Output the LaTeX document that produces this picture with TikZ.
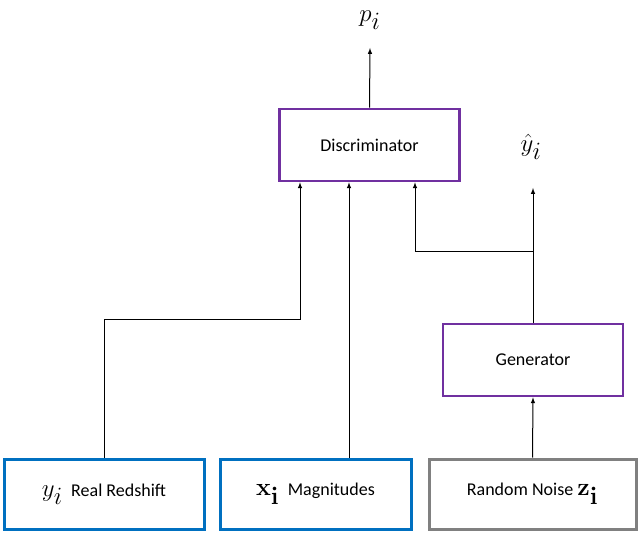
\documentclass[tikz,border=0pt]{standalone}
\usepackage{amsmath}
\usepackage[no-math]{fontspec}
\setmainfont{Carlito}
\usetikzlibrary{positioning}
\definecolor{blockpurple}{RGB}{112,48,160}
\definecolor{inblue}{RGB}{0,112,192}
\definecolor{ingray}{RGB}{128,128,128}
\tikzset{
	net/.style={draw=blockpurple, line width=2.6pt, minimum width=180pt, minimum height=72pt, font=\fontsize{18}{20}\selectfont},
	inbox/.style={draw=inblue, line width=3pt, minimum height=70pt, font=\fontsize{18}{20}\selectfont},
	link/.style={-latex, line width=1pt}
}
\newcommand{\bigmath}{\fontsize{38}{40}\selectfont}
\newcommand{\smalltext}{\fontsize{18}{20}\selectfont}
\begin{document}
\begin{tikzpicture}[x=1pt, y=-1pt]
		\useasboundingbox (0,0) rectangle (640,534);

		\node[net] (disc) at (369.5,145) {Discriminator};
		\node[net] (gen) at (533,360) {Generator};

		\node[inbox, minimum width=200pt] (real) at (104,494) {\bigmath$y_i$\ \smalltext Real Redshift};
		\node[inbox, minimum width=191pt] (mag) at (315.5,494) {\bigmath$\mathbf{x_i}$\ \smalltext Magnitudes};
		\node[inbox, draw=ingray, minimum width=207pt] (noise) at (532.5,494) {Random Noise\ \bigmath$\mathbf{z_i}$};

		\node (p) at (370,20) {\bigmath$p_i$};
		\node (yhat) at (531,147) {\bigmath$\hat{y}_i$};
		\coordinate (ytip) at (533,188);
		\coordinate (ptip) at (370,48);

		\draw[link] (disc.north) -- (ptip);
		\draw[link] (gen.north) -- (ytip);
		\draw[link] (noise.north) -- (gen.south);
		\draw[link] (mag.north -| 349,0) -- (disc.south -| 349,0);
		\draw[link] (real.north) |- (300,320) -- (disc.south -| 300,0);
		\draw[link] (gen.north) |- (415,252) -- (disc.south -| 415,0);
	\end{tikzpicture}
\end{document}
